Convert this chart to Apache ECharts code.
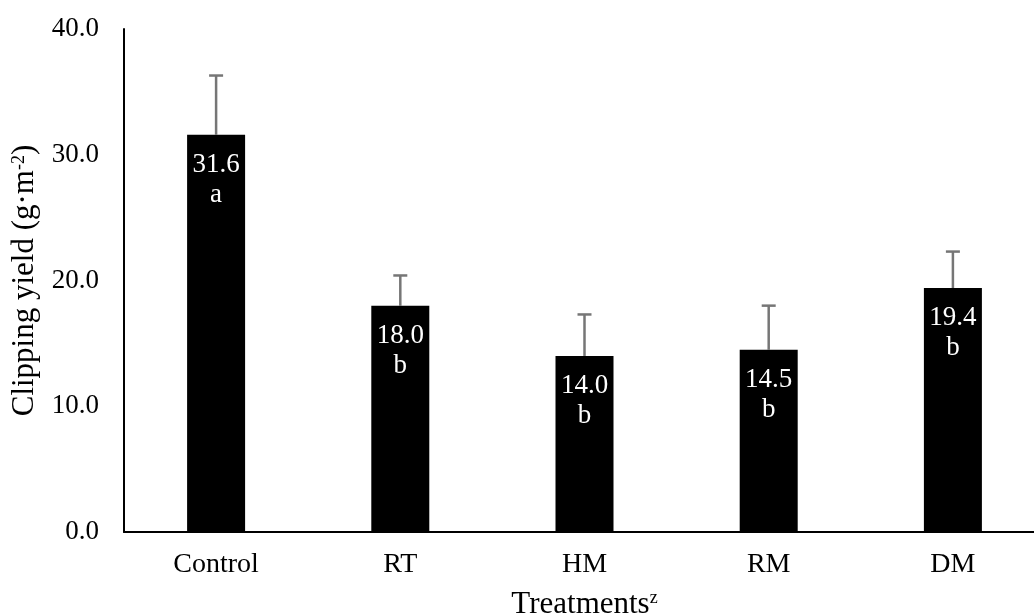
<!DOCTYPE html>
<html>
<head>
<meta charset="utf-8">
<script src="https://cdn.jsdelivr.net/npm/echarts@6/dist/echarts.min.js"></script>
<style>
  html, body { margin: 0; padding: 0; background: #fff; }
  #main { width: 1034px; height: 616px; }
</style>
</head>
<body>
<div id="main"></div>
<script>
// 数据
const categories = ['Control', 'RT', 'HM', 'RM', 'DM'];
const means = [31.6, 18.0, 14.0, 14.5, 19.4];
const errors = [4.7, 2.4, 3.3, 3.5, 2.9];   // 上误差（标准差）
const letters = ['a', 'b', 'b', 'b', 'b'];
const yTicks = [0, 10, 20, 30, 40];

const serif = "'Liberation Serif', 'Times New Roman', serif";
const chart = echarts.init(document.getElementById('main'));

const option = {
  backgroundColor: '#fff',
  animation: false,
  grid: {
    left: 124,
    top: 29,
    width: 921,
    height: 503,
    outerBoundsMode: 'none',
    containLabel: false
  },
  xAxis: {
    type: 'category',
    data: categories,
    name: 'Treatments{sup|z}',
    nameLocation: 'middle',
    nameGap: 57,
    nameTextStyle: {
      fontFamily: serif, fontSize: 31, color: '#000',
      rich: {
        sup: { fontFamily: serif, fontSize: 18, color: '#000', verticalAlign: 'top', padding: [0, 0, 12, 0] }
      }
    },
    axisLine: { lineStyle: { color: '#000', width: 2 } },
    axisTick: { show: false },
    axisLabel: { fontFamily: serif, fontSize: 28, color: '#000', margin: 19 }
  },
  yAxis: {
    type: 'value',
    min: yTicks[0],
    max: yTicks[yTicks.length - 1],
    interval: 10,
    name: 'Clipping yield (g·m{sup|-2})',
    nameLocation: 'middle',
    nameGap: 75,
    nameRotate: 90,
    nameTextStyle: {
      fontFamily: serif, fontSize: 31, color: '#000',
      rich: {
        sup: { fontFamily: serif, fontSize: 18, color: '#000', verticalAlign: 'top', padding: [0, 0, 12, 0] }
      }
    },
    axisLine: { show: true, lineStyle: { color: '#000', width: 2 } },
    axisTick: { show: false },
    splitLine: { show: false },
    axisLabel: {
      fontFamily: serif, fontSize: 27, color: '#000', margin: 25,
      formatter: v => v.toFixed(1)
    }
  },
  series: [
    {
      type: 'bar',
      data: means,
      barWidth: 58,
      itemStyle: { color: '#000' },
      label: {
        show: true,
        position: 'insideTop',
        distance: 15,
        fontFamily: serif,
        fontSize: 27,
        lineHeight: 30,
        color: '#fff',
        formatter: p => p.value.toFixed(1) + '\n' + letters[p.dataIndex]
      },
      z: 2
    },
    {
      // 误差线（只画上半部分）
      type: 'custom',
      data: means.map((m, i) => [i, m, m + errors[i]]),
      renderItem: function (params, api) {
        const base = api.coord([api.value(0), api.value(1)]);
        const top = api.coord([api.value(0), api.value(2)]);
        const half = 7;
        const style = { stroke: '#767676', lineWidth: 2.5 };
        return {
          type: 'group',
          children: [
            { type: 'line', shape: { x1: base[0], y1: base[1], x2: top[0], y2: top[1] }, style: style },
            { type: 'line', shape: { x1: top[0] - half, y1: top[1], x2: top[0] + half, y2: top[1] }, style: style }
          ]
        };
      },
      z: 1
    }
  ]
};

chart.setOption(option);
</script>
</body>
</html>
